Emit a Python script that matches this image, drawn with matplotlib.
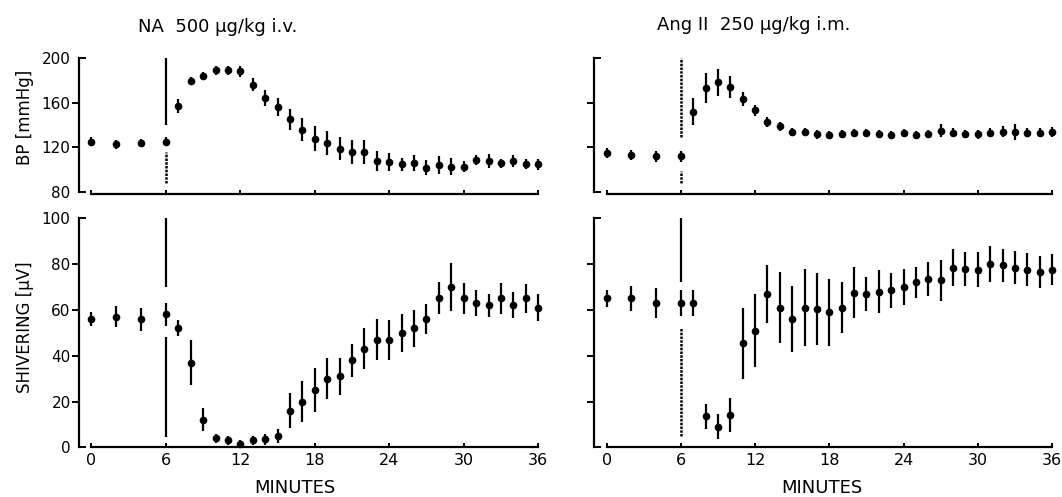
import matplotlib
matplotlib.use("Agg")
import matplotlib.pyplot as plt

plt.rcParams["font.family"] = ["DejaVu Sans"]

# time points (minutes)
minutes = [0, 2, 4, 6, 7, 8, 9, 10, 11, 12, 13, 14, 15, 16, 17, 18, 19, 20,
           21, 22, 23, 24, 25, 26, 27, 28, 29, 30, 31, 32, 33, 34, 35, 36]

# blood pressure, NA 500 ug/kg i.v.
bp_na = [125, 123, 124, 125, 157, 179, 184, 189, 189, 188, 176, 164, 156, 145,
         136, 128, 124, 119, 116, 116, 108, 107, 105, 106, 102, 104, 103, 103,
         109, 108, 106, 108, 105, 105]
bp_na_err = [4, 4, 4, 4, 6, 3.5, 3.5, 4, 4, 5, 6, 7, 8, 9, 10.5, 11, 11, 10.5,
             10.5, 11, 9, 8, 6, 7, 6.5, 8, 7.5, 5, 4.5, 6.5, 4, 5, 4.5, 5]

# blood pressure, Ang II 250 ug/kg i.m.
bp_ang = [115, 113, 112, 112, 152, 173, 178, 174, 163, 153, 143, 139, 134, 134,
          132, 131, 132, 133, 133, 132, 131, 133, 131, 132, 135, 133, 132, 132,
          133, 134, 134, 133, 133, 134]
bp_ang_err = [4.5, 4.5, 5, 5, 12, 13, 12, 10, 6, 5, 4.5, 4, 3.5, 3.5, 4, 3.5,
              3.5, 3.5, 3.5, 3.5, 3.5, 3.5, 3.5, 3.5, 5.5, 4, 3.5, 4, 4, 5, 7,
              4, 4, 4.5]

# shivering, NA
shiv_na = [56, 57, 56, 58, 52, 37, 12, 4, 3, 1.5, 3, 3.5, 5, 16, 20, 25, 30,
           31, 38, 43, 47, 47, 50, 52, 56, 65, 70, 65, 63, 62, 65, 62, 65, 61]
shiv_na_err = [3, 4.5, 5, 5, 3.5, 10, 5, 2, 2, 1.5, 2, 2.5, 3, 7.5, 9, 9.5, 9,
               8, 7.3, 9, 9, 8.7, 8.4, 8, 6.5, 7, 10.4, 6.7, 5.8, 5, 6.8, 5.6,
               6.5, 6]

# shivering, Ang II
shiv_ang = [65, 65, 63, 63, 63, 13.5, 9, 14, 45.5, 51, 67, 61, 56, 61, 60.5,
            59, 61, 67.5, 67, 68, 68.5, 70, 72, 73.5, 73, 78.5, 78, 77.5, 80,
            79.5, 78.5, 77.5, 76.5, 77.5]
shiv_ang_err = [3.6, 5.5, 6.5, 5.7, 5.7, 5.6, 5.5, 7.4, 15.5, 16, 12.8, 15.5,
                14.6, 16.8, 15.7, 14.6, 11.3, 11.2, 7.4, 9.5, 7.6, 7.7, 6.9,
                7.5, 9, 8, 7.5, 7.7, 7.8, 7.1, 7.1, 7.2, 6.9, 6.7]

injection_time = 6
# injection marker segments: (y_from, y_to, dotted?)
inj_bp_na = [(140, 200, False), (88, 116, True)]
inj_bp_ang = [(129, 200, True), (88, 99, True)]
inj_shiv_na = [(70, 100, False), (4.5, 48, False)]
inj_shiv_ang = [(72, 100, False), (5, 52, True)]

bp_ticks = [80, 120, 160, 200]
shiv_ticks = [0, 20, 40, 60, 80, 100]
x_ticks = [0, 6, 12, 18, 24, 30, 36]

W, H = 1062, 497
fig = plt.figure(figsize=(W / 100, H / 100), dpi=100)


def px_axes(x0, x1, y0, y1):
    return fig.add_axes([x0 / W, 1 - y1 / H, (x1 - x0) / W, (y1 - y0) / H])


def style(ax, yticks, ylim, show_ylabels, show_xlabels):
    ax.set_xlim(-1, 36.3)
    ax.set_ylim(*ylim)
    for s in ("top", "right"):
        ax.spines[s].set_visible(False)
    ax.spines["left"].set_bounds(yticks[0], yticks[-1])
    ax.spines["bottom"].set_bounds(0, 36)
    ax.spines["left"].set_linewidth(1.6)
    ax.spines["bottom"].set_linewidth(1.6)
    # interior ticks point out, end ticks form a bracket pointing in
    ax.set_yticks(yticks[1:-1])
    ax.set_yticks([yticks[0], yticks[-1]], minor=True)
    if show_ylabels:
        ax.set_yticklabels([str(v) for v in yticks[1:-1]])
        ax.set_yticklabels([str(yticks[0]), str(yticks[-1])], minor=True)
    else:
        ax.set_yticklabels([])
        ax.set_yticklabels([], minor=True)
    ax.tick_params(axis="y", which="major", direction="out", length=5,
                   width=1.4, pad=1, labelsize=11)
    ax.tick_params(axis="y", which="minor", direction="in", length=5,
                   width=1.4, pad=6, labelsize=11)
    ax.set_xticks(x_ticks)
    ax.tick_params(axis="x", direction="in", length=3, width=1.4, pad=4,
                   labelsize=11.5)
    if not show_xlabels:
        ax.set_xticklabels([])


def draw(ax, y, err, segments):
    for y0, y1, dotted in segments:
        ax.vlines(injection_time, y0, y1, color="black",
                  linewidth=1.6 if not dotted else 1.8,
                  linestyles=(0, (1, 0.5)) if dotted else "solid")
    ax.errorbar(minutes, y, yerr=err, fmt="o", color="black", ms=4.5,
                elinewidth=1.6, capsize=0, clip_on=False)


ax_bp_na = px_axes(79, 79 + 37.3 * 12.41, 57.7, 193.5)
ax_sh_na = px_axes(79, 79 + 37.3 * 12.41, 218.3, 447.3)
ax_bp_ang = px_axes(594.3, 594.3 + 37.3 * 12.37, 57.7, 193.5)
ax_sh_ang = px_axes(594.3, 594.3 + 37.3 * 12.37, 218.3, 447.3)

style(ax_bp_na, bp_ticks, (79, 200), True, False)
style(ax_sh_na, shiv_ticks, (0, 100), True, True)
style(ax_bp_ang, bp_ticks, (79, 200), False, False)
style(ax_sh_ang, shiv_ticks, (0, 100), False, True)

draw(ax_bp_na, bp_na, bp_na_err, inj_bp_na)
draw(ax_sh_na, shiv_na, shiv_na_err, inj_shiv_na)
draw(ax_bp_ang, bp_ang, bp_ang_err, inj_bp_ang)
draw(ax_sh_ang, shiv_ang, shiv_ang_err, inj_shiv_ang)

fig.text(138 / W, 1 - 27 / H, "NA  500 \u00b5g/kg i.v.", fontsize=13,
         ha="left", va="center")
fig.text(657 / W, 1 - 25 / H, "Ang II  250 \u00b5g/kg i.m.", fontsize=13,
         ha="left", va="center")
fig.text(25 / W, 1 - 117 / H, "BP [mmHg]", fontsize=12, rotation=90,
         ha="center", va="center")
fig.text(25 / W, 1 - 327 / H, "SHIVERING [\u00b5V]", fontsize=12,
         rotation=90, ha="center", va="center")
fig.text(295 / W, 1 - 488 / H, "MINUTES", fontsize=13, ha="center",
         va="center")
fig.text(822 / W, 1 - 488 / H, "MINUTES", fontsize=13, ha="center",
         va="center")

fig.savefig("out.png", dpi=100)
